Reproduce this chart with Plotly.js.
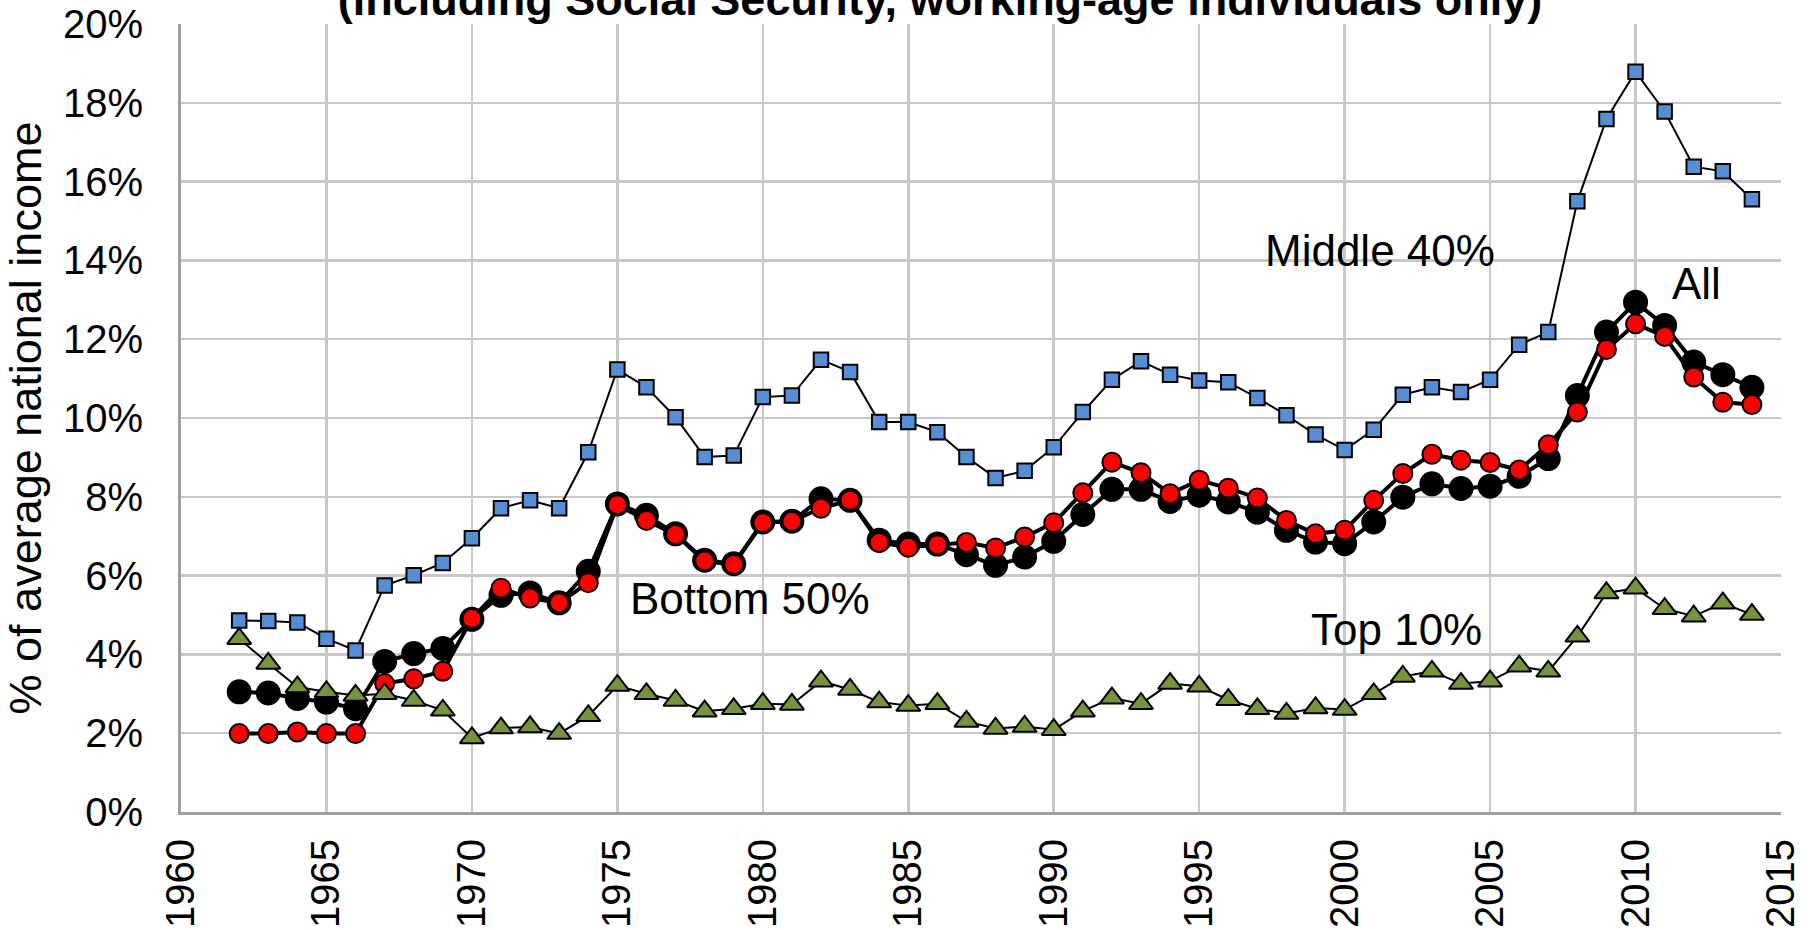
<!DOCTYPE html>
<html>
<head>
<meta charset="utf-8">
<script src="https://cdn.plot.ly/plotly-3.0.1.min.js"></script>
<style>
  html, body { margin: 0; padding: 0; background: #ffffff; overflow: hidden; }
  #chart { width: 1820px; height: 930px; }
</style>
</head>
<body>
<div id="chart"></div>
<script>
// ---- Data (values in % of average national income) ----
const years = [1962,1963,1964,1965,1966,1967,1968,1969,1970,1971,1972,1973,1974,1975,1976,1977,1978,1979,
  1980,1981,1982,1983,1984,1985,1986,1987,1988,1989,1990,1991,1992,1993,1994,1995,1996,1997,1998,1999,
  2000,2001,2002,2003,2004,2005,2006,2007,2008,2009,2010,2011,2012,2013,2014];

const allIndividuals = [3.05,3.02,2.88,2.79,2.62,3.82,4.02,4.15,4.89,5.50,5.56,5.31,6.11,7.82,7.53,7.06,6.39,6.30,
  7.36,7.38,7.95,7.91,6.90,6.80,6.80,6.53,6.26,6.47,6.87,7.55,8.19,8.19,7.88,8.04,7.87,7.61,7.15,6.85,
  6.81,7.36,7.99,8.33,8.21,8.27,8.52,8.97,10.57,12.18,12.94,12.35,11.42,11.10,10.78];

const bottom50 = [1.99,1.99,2.03,1.99,1.99,3.26,3.38,3.57,4.91,5.68,5.43,5.31,5.82,7.80,7.40,7.04,6.37,6.28,
  7.34,7.38,7.71,7.91,6.84,6.72,6.78,6.84,6.70,6.98,7.34,8.10,8.88,8.61,8.08,8.42,8.22,7.97,7.40,7.06,
  7.15,7.91,8.59,9.08,8.93,8.87,8.68,9.32,10.15,11.74,12.39,12.07,11.04,10.40,10.34];

const middle40 = [4.86,4.85,4.81,4.40,4.10,5.75,6.01,6.32,6.95,7.71,7.91,7.71,9.13,11.23,10.78,10.02,9.01,9.05,
  10.53,10.57,11.48,11.17,9.90,9.90,9.64,9.01,8.48,8.66,9.26,10.15,10.97,11.44,11.10,10.95,10.91,10.51,10.07,9.58,
  9.19,9.70,10.59,10.78,10.66,10.97,11.86,12.18,15.50,17.59,18.79,17.78,16.38,16.26,15.55];

const top10 = [4.40,3.77,3.17,3.05,2.96,3.00,2.83,2.58,1.88,2.13,2.16,1.99,2.44,3.21,3.00,2.83,2.56,2.62,
  2.75,2.73,3.32,3.11,2.79,2.70,2.75,2.30,2.12,2.17,2.09,2.56,2.89,2.75,3.26,3.19,2.85,2.62,2.50,2.64,
  2.60,3.00,3.44,3.57,3.26,3.32,3.70,3.57,4.46,5.56,5.68,5.16,4.97,5.30,5.01];

const seriesNames = ['All', 'Bottom 50%', 'Middle 40%', 'Top 10%'];
const titleText = '(including Social Security, working-age individuals only)';
const yTitleText = '% of average national income';

// ---- Styling ----
const FONT = 'Arial, "Liberation Sans", sans-serif';
const OUTLINE = {color: '#000000', width: 2};

const traces = [
  {
    x: years, y: allIndividuals, name: seriesNames[0], type: 'scatter', mode: 'lines+markers',
    line: {color: '#000000', width: 4},
    marker: {symbol: 'circle', size: 23, color: '#000000', line: OUTLINE}
  },
  {
    x: years, y: bottom50, name: seriesNames[1], type: 'scatter', mode: 'lines+markers',
    line: {color: '#000000', width: 4},
    marker: {symbol: 'circle', size: 19, color: '#ff0000', line: OUTLINE}
  },
  {
    x: years, y: middle40, name: seriesNames[2], type: 'scatter', mode: 'lines+markers',
    line: {color: '#000000', width: 2},
    marker: {symbol: 'square', size: 14.5, color: '#558ed5', line: OUTLINE}
  },
  {
    x: years, y: top10, name: seriesNames[3], type: 'scatter', mode: 'lines+markers',
    line: {color: '#000000', width: 2},
    marker: {symbol: 'triangle-up', size: 21, color: '#77933c', line: OUTLINE}
  }
];

const layout = {
  width: 1820, height: 930,
  margin: {l: 181, r: 39, t: 24, b: 118, pad: 0},
  paper_bgcolor: '#ffffff', plot_bgcolor: '#ffffff',
  showlegend: false,
  font: {family: FONT, color: '#000000'},
  title: {
    text: '<b>' + titleText + '</b>',
    font: {family: FONT, size: 45, color: '#000000'},
    xref: 'container', yref: 'container',
    x: 940 / 1820, xanchor: 'center',
    y: 1 - 15 / 930, yanchor: 'bottom',
    pad: {t: 0, b: 0, l: 0, r: 0}
  },
  xaxis: {
    range: [1960, 2015], tick0: 1960, dtick: 5, tickmode: 'linear',
    tickangle: -90, tickfont: {family: FONT, size: 40, color: '#000000'},
    ticks: '', ticklabelstandoff: 8,
    showgrid: true, gridcolor: '#c8c8c8', gridwidth: 2.5,
    showline: true, linecolor: '#a0a0a0', linewidth: 3,
    zeroline: false, fixedrange: true
  },
  yaxis: {
    range: [0, 20], tick0: 0, dtick: 2, tickmode: 'linear', ticksuffix: '%',
    tickfont: {family: FONT, size: 40, color: '#000000'},
    ticks: '', ticklabelstandoff: 27,
    showgrid: true, gridcolor: '#c8c8c8', gridwidth: 2.5,
    showline: true, linecolor: '#a0a0a0', linewidth: 3,
    zeroline: false, fixedrange: true,
    title: {text: yTitleText, font: {family: FONT, size: 45, color: '#000000'}, standoff: 12}
  },
  annotations: [
    {text: 'Middle 40%', x: 2001.22, y: 14.25, xref: 'x', yref: 'y', showarrow: false,
     xanchor: 'center', yanchor: 'middle', font: {family: FONT, size: 44, color: '#000000'}},
    {text: 'All', x: 2012.11, y: 13.42, xref: 'x', yref: 'y', showarrow: false,
     xanchor: 'center', yanchor: 'middle', font: {family: FONT, size: 44, color: '#000000'}},
    {text: 'Bottom 50%', x: 1979.56, y: 5.42, xref: 'x', yref: 'y', showarrow: false,
     xanchor: 'center', yanchor: 'middle', font: {family: FONT, size: 44, color: '#000000'}},
    {text: 'Top 10%', x: 2001.77, y: 4.64, xref: 'x', yref: 'y', showarrow: false,
     xanchor: 'center', yanchor: 'middle', font: {family: FONT, size: 44, color: '#000000'}}
  ]
};

Plotly.newPlot('chart', traces, layout, {displayModeBar: false, staticPlot: true});
</script>
</body>
</html>
